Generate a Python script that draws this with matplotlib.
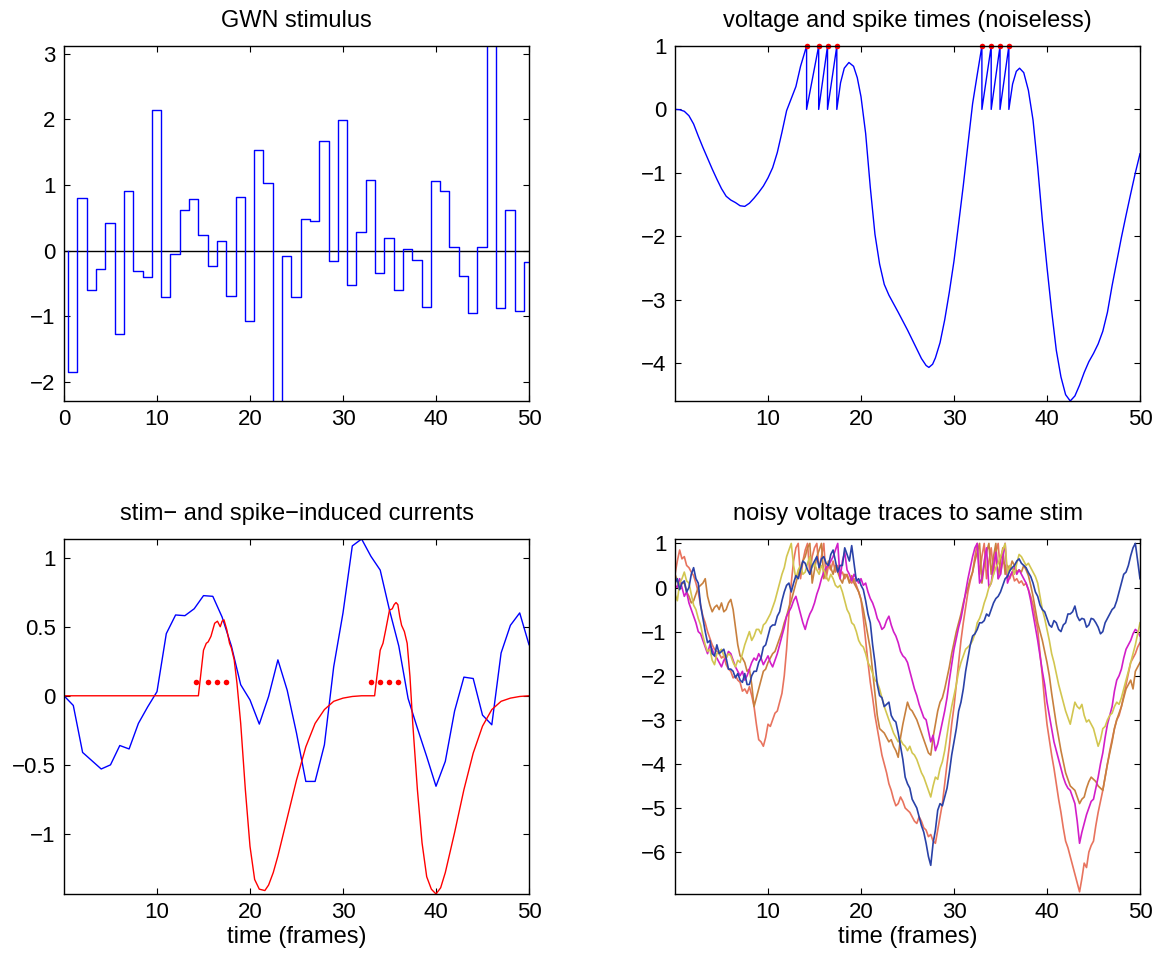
import matplotlib
matplotlib.use('Agg')
import matplotlib.pyplot as plt
import numpy as np

plt.rcParams['font.family'] = ['Liberation Sans', 'DejaVu Sans']
plt.rcParams['font.size'] = 16
plt.rcParams['axes.unicode_minus'] = True

# GWN stimulus, one value per frame (steps start at 0.45)
stim = [-1.845, 0.81, -0.595, -0.275, 0.417, -1.266, 0.915, -0.315, -0.40, 2.145,
        -0.71, -0.056, 0.625, 0.79, 0.234, -0.234, 0.147, -0.69, 0.813, -1.068,
        1.53, 1.037, -2.35, -0.08, -0.707, 0.478, 0.452, 1.677, -0.158, 1.988,
        -0.519, 0.28, 1.073, -0.336, 0.188, -0.595, 0.02, -0.147, -0.85, 1.057,
        0.905, 0.061, -0.386, -0.956, 0.051, 3.2, -0.87, 0.62, -0.915, -0.173]
stim_edges = list(np.arange(0.45, 50, 1.0)) + [50]

# spike times (frames)
spikes = [14.15, 15.45, 16.4, 17.4, 33.0, 34.0, 34.95, 35.9]

# noiseless voltage
volt_t = [0, 0.5, 1, 1.5, 2, 2.5, 3, 3.5, 4, 4.5, 5, 5.5, 6, 6.5, 7, 7.5, 8, 8.5, 9, 9.5,
          10, 10.5, 11, 11.5, 12, 12.5, 13, 13.5, 14.15, 14.15, 15.45, 15.45, 16.4, 16.4,
          17.4, 17.4, 17.8, 18.2, 18.7, 19.2, 19.6, 20, 20.5, 21, 21.5, 22, 22.5, 23, 24,
          25, 26, 26.5, 27, 27.3, 27.7, 28, 28.5, 29, 29.5, 30, 30.5, 31, 31.5, 32, 32.5,
          33.0, 33.0, 34.0, 34.0, 34.95, 34.95, 35.9, 35.9, 36.3, 36.7, 37.05, 37.5, 38,
          38.5, 39, 39.5, 40, 40.5, 41, 41.5, 42, 42.5, 43, 43.5, 44, 44.5, 45, 45.5, 46,
          46.5, 47, 47.5, 48, 48.5, 49, 49.5, 50]
volt_v = [0, -0.005, -0.03, -0.1, -0.23, -0.42, -0.6, -0.77, -0.94, -1.1, -1.25, -1.37,
          -1.43, -1.47, -1.52, -1.53, -1.48, -1.4, -1.31, -1.21, -1.08, -0.92, -0.68, -0.36,
          -0.02, 0.17, 0.36, 0.68, 1, 0, 1, 0, 1, 0, 1, 0, 0.42, 0.65, 0.74, 0.68, 0.5, 0.2,
          -0.38, -1.23, -1.97, -2.44, -2.76, -2.93, -3.2, -3.48, -3.78, -3.93, -4.04, -4.07,
          -4.02, -3.92, -3.68, -3.32, -2.88, -2.39, -1.8, -1.2, -0.55, 0.09, 0.55, 1, 0, 1, 0,
          1, 0, 1, 0, 0.4, 0.6, 0.65, 0.58, 0.3, -0.17, -0.91, -1.75, -2.49, -3.18, -3.8,
          -4.22, -4.5, -4.6, -4.52, -4.35, -4.15, -3.98, -3.85, -3.7, -3.5, -3.2, -2.78, -2.4,
          -2.02, -1.67, -1.33, -1.0, -0.7]

# stimulus-induced current (one value per frame, 0..50)
stim_cur = [0, -0.07, -0.41, -0.47, -0.53, -0.50, -0.36, -0.385, -0.20, -0.08,
            0.03, 0.45, 0.585, 0.58, 0.63, 0.725, 0.72, 0.57, 0.36, 0.08,
            -0.03, -0.205, -0.005, 0.26, 0.04, -0.27, -0.62, -0.62, -0.355, 0.21,
            0.6, 1.085, 1.135, 1.01, 0.91, 0.62, 0.36, -0.02, -0.235, -0.44,
            -0.655, -0.475, -0.11, 0.135, 0.125, -0.14, -0.21, 0.31, 0.51, 0.60, 0.37]

# spike-induced current
spk_t = [0, 14.45, 14.6, 15, 15.3, 15.5, 15.8, 16.2, 16.5, 16.8, 17, 17.2, 17.5, 17.8, 18,
         18.3, 18.6, 19, 19.5, 20, 20.5, 21, 21.6, 22, 22.5, 23, 24, 25, 26, 27, 28, 29, 30,
         31, 32, 33.4, 33.6, 34, 34.3, 34.6, 35, 35.3, 35.5, 35.7, 35.9, 36.1, 36.3, 36.6,
         36.9, 37.2, 37.5, 38, 38.5, 39, 39.5, 40, 40.5, 41, 42, 43, 44, 45, 46, 47, 48, 49, 50]
spk_cur = [0, 0, 0.09, 0.33, 0.38, 0.39, 0.43, 0.525, 0.54, 0.50, 0.54, 0.55, 0.48, 0.38,
           0.345, 0.26, 0.09, -0.2, -0.68, -1.09, -1.33, -1.40, -1.41, -1.37, -1.28, -1.16,
           -0.885, -0.61, -0.37, -0.2, -0.10, -0.04, -0.017, -0.005, 0, 0, 0.115, 0.33, 0.38,
           0.48, 0.62, 0.63, 0.66, 0.675, 0.66, 0.575, 0.51, 0.465, 0.38, 0.14, -0.2, -0.68,
           -1.065, -1.31, -1.40, -1.435, -1.39, -1.28, -0.99, -0.68, -0.415, -0.22, -0.10,
           -0.04, -0.017, -0.005, 0]

# noisy voltage traces, sampled every quarter frame (4 values per frame, rows of 5 frames)
trace_blue = [
    0.1, 0.2, -0.05, 0.1, 0.15, -0.1, 0.0, 0.3, 0.45, 0.2, 0.1, -0.4, -0.7, -1.0, -1.25, -1.2, -1.5, -1.55, -1.3, -1.5,
    -1.45, -1.4, -1.6, -1.85, -1.85, -1.9, -2.05, -1.95, -2.1, -2.15, -1.95, -2.2, -2.2, -2.0, -1.9, -1.9, -1.7, -1.6, -1.35, -1.3,
    -1.1, -0.9, -0.85, -0.85, -0.65, -0.55, -0.3, -0.1, 0.05, 0.1, -0.1, 0.1, 0.27, 0.2, 0.4, 0.6, 0.55, 0.4, 0.3, 0.5,
    0.6, 0.7, 0.45, 0.65, 0.7, 0.55, 0.5, 0.75, 0.85, 0.6, 0.35, 0.5, 0.5, 0.9, 0.75, 0.6, 0.95, 0.55, 0.15, 0.2,
    0.05, -0.05, -0.3, -0.6, -0.8, -1.3, -1.7, -2.2, -2.45, -2.5, -2.7, -2.65, -2.6, -2.9, -3.0, -3.05, -3.3, -3.6, -3.9, -4.3,
    -4.45, -4.55, -4.8, -4.9, -5.0, -5.2, -5.4, -5.55, -5.8, -6.1, -6.3, -5.8, -5.5, -5.05, -4.9, -4.95, -4.75, -4.55, -4.2, -3.8,
    -3.5, -3.2, -2.8, -2.6, -2.3, -1.9, -1.6, -1.3, -1.1, -1.05, -0.95, -0.8, -0.8, -0.75, -0.6, -0.65, -0.5, -0.35, -0.25, -0.2,
    -0.1, 0.05, 0.2, 0.25, 0.38, 0.45, 0.5, 0.6, 0.65, 0.55, 0.5, 0.45, 0.34, 0.25, 0.1, -0.1, -0.2, -0.4, -0.5, -0.55,
    -0.7, -0.85, -0.9, -0.75, -0.8, -0.95, -1.0, -0.85, -0.8, -0.6, -0.6, -0.55, -0.42, -0.65, -0.75, -0.7, -0.72, -0.9, -0.85, -0.7,
    -0.72, -0.8, -0.9, -1.05, -1.0, -0.8, -0.7, -0.6, -0.5, -0.45, -0.3, -0.1, 0.1, 0.3, 0.35, 0.5, 0.72, 0.9, 1.0, 0.6,
    0.2]
trace_yellow = [
    -0.15, -0.3, 0.1, 0.2, 0.35, 0.15, 0.1, -0.15, -0.4, -0.5, -0.7, -0.85, -1.1, -1.3, -1.45, -1.4, -1.65, -1.75, -1.5, -1.45,
    -1.4, -1.55, -1.6, -1.5, -1.55, -1.7, -1.8, -1.65, -1.7, -1.5, -1.3, -1.15, -1.0, -1.2, -1.1, -0.95, -0.95, -1.05, -0.85, -0.8,
    -0.7, -0.6, -0.45, -0.3, -0.1, 0.1, 0.3, 0.45, 0.7, 0.85, 1.0, 0.5, 0.2, 0.4, 0.5, 0.3, 0.35, 0.55, 0.7, 0.45,
    0.55, 0.4, 0.3, 0.5, 0.4, 0.25, 0.15, 0.3, 0.2, 0.05, 0.0, 0.05, -0.1, -0.3, -0.5, -0.6, -0.8, -0.85, -1.0, -1.2,
    -1.3, -1.35, -1.5, -1.7, -1.8, -1.95, -2.1, -2.15, -2.3, -2.5, -2.7, -2.85, -3.0, -3.15, -3.3, -3.4, -3.5, -3.45, -3.55, -3.6,
    -3.7, -3.6, -3.75, -3.8, -3.9, -4.05, -4.2, -4.3, -4.45, -4.6, -4.75, -4.5, -4.3, -4.35, -4.1, -3.95, -3.7, -3.35, -3.0, -2.7,
    -2.45, -2.2, -1.9, -1.7, -1.55, -1.4, -1.35, -1.3, -1.2, -1.05, -0.8, -0.7, -0.55, -0.35, -0.2, 0.0, 0.1, 0.3, 0.45, 0.55,
    0.7, 0.85, 1.0, 0.3, 0.5, 0.45, 0.3, 0.55, 0.75, 0.7, 0.6, 0.5, 0.55, 0.45, 0.35, 0.25, 0.1, -0.2, -0.5, -0.7,
    -0.95, -1.2, -1.5, -1.7, -1.95, -2.2, -2.4, -2.6, -2.8, -2.95, -3.1, -2.85, -2.6, -2.7, -2.75, -2.65, -2.9, -3.05, -3.0, -3.1,
    -3.2, -3.4, -3.6, -3.45, -3.2, -3.15, -3.0, -2.9, -2.85, -2.7, -2.6, -2.65, -2.5, -2.3, -2.1, -1.9, -1.7, -1.5, -1.3, -1.05,
    -0.8]
trace_magenta = [
    0.05, 0.0, 0.2, 0.0, -0.2, -0.1, -0.35, -0.5, -0.65, -0.8, -1.0, -1.05, -1.2, -1.35, -1.5, -1.3, -1.4, -1.55, -1.6, -1.7,
    -1.8, -1.65, -1.6, -1.45, -1.5, -1.65, -1.8, -1.9, -2.0, -1.9, -2.1, -2.0, -1.85, -1.7, -1.6, -1.65, -1.5, -1.6, -1.75, -1.65,
    -1.55, -1.7, -1.8, -1.65, -1.5, -1.3, -1.1, -0.9, -0.65, -0.55, -0.45, -0.3, -0.2, -0.4, -0.6, -0.8, -0.95, -0.75, -0.6, -0.5,
    -0.35, -0.15, 0.0, 0.2, 0.35, 0.45, 0.5, 0.6, 0.7, 0.85, 1.0, 0.2, 0.6, 0.8, 0.4, 0.3, 0.15, 0.3, 0.2, 0.1,
    0.2, 0.05, 0.1, -0.1, -0.25, -0.35, -0.5, -0.7, -0.8, -0.95, -0.9, -0.75, -0.65, -0.85, -1.0, -1.1, -1.25, -1.45, -1.55, -1.6,
    -1.7, -1.9, -2.1, -2.3, -2.45, -2.65, -2.8, -2.95, -3.0, -3.25, -3.5, -3.35, -3.7, -3.55, -3.3, -3.05, -2.8, -2.5, -2.1, -1.75,
    -1.4, -1.15, -0.9, -0.7, -0.42, -0.1, 0.2, 0.45, 0.7, 0.9, 1.0, 0.1, 0.2, 0.6, 0.9, 0.0, 0.1, 0.5, 0.8, 0.2,
    0.3, 0.7, 1.0, 0.1, 0.25, 0.35, 0.45, 0.3, 0.4, 0.3, 0.2, 0.1, -0.05, -0.3, -0.6, -0.9, -1.2, -1.55, -1.9, -2.2,
    -2.6, -2.9, -3.2, -3.5, -3.7, -3.9, -4.1, -4.3, -4.45, -4.55, -4.6, -4.75, -4.9, -5.3, -5.8, -5.55, -5.35, -5.15, -5.0, -4.85,
    -4.8, -4.55, -4.3, -4.0, -3.75, -3.4, -3.1, -2.9, -2.7, -2.35, -2.1, -2.0, -1.85, -1.6, -1.4, -1.3, -1.2, -1.05, -0.95, -1.0,
    -1.1]
trace_brown = [
    0.3, 0.15, 0.0, 0.1, 0.1, -0.1, -0.2, -0.35, -0.3, -0.15, 0.0, 0.05, 0.1, 0.2, -0.2, -0.4, -0.55, -0.45, -0.4, -0.5,
    -0.35, -0.55, -0.5, -0.35, -0.27, -0.5, -0.9, -1.3, -1.55, -1.6, -1.7, -1.9, -1.85, -2.2, -2.7, -2.5, -2.3, -2.1, -1.9, -1.85,
    -1.7, -1.6, -1.5, -1.45, -1.3, -1.15, -1.0, -0.8, -0.65, -0.45, -0.3, -0.1, 0.1, 0.3, 0.45, 0.6, 0.7, 0.9, 1.0, 0.1,
    0.4, 0.7, 0.85, 1.0, 0.2, 0.4, 0.6, 0.45, 0.3, 0.5, 0.35, 0.2, 0.1, 0.3, 0.27, 0.1, 0.27, 0.1, 0.0, -0.1,
    -0.27, -0.5, -0.8, -1.1, -1.4, -1.9, -2.4, -2.9, -3.2, -3.25, -3.3, -3.4, -3.5, -3.45, -3.6, -3.7, -3.85, -3.4, -3.1, -2.85,
    -2.6, -2.75, -2.8, -2.9, -3.0, -3.15, -3.3, -3.45, -3.6, -3.75, -3.8, -3.4, -3.1, -2.8, -2.6, -2.5, -2.3, -2.05, -1.8, -1.5,
    -1.25, -1.0, -0.8, -0.6, -0.35, -0.15, 0.0, 0.2, 0.35, 0.6, 0.8, 1.0, 0.1, 0.5, 0.8, 1.0, 0.3, 0.7, 1.0, 0.2,
    0.6, 0.9, 0.3, 0.5, 0.4, 0.6, 0.5, 0.35, 0.4, 0.35, 0.5, 0.4, 0.27, 0.05, -0.2, -0.5, -0.8, -1.0, -1.2, -1.45,
    -1.7, -2.0, -2.4, -2.75, -3.1, -3.4, -3.7, -3.95, -4.2, -4.35, -4.5, -4.55, -4.6, -4.75, -4.9, -4.8, -4.75, -4.55, -4.4, -4.3,
    -4.35, -4.4, -4.5, -4.55, -4.6, -4.3, -4.0, -3.75, -3.5, -3.2, -3.0, -2.85, -2.7, -2.5, -2.3, -2.2, -2.1, -2.3, -1.9, -1.8,
    -1.7]
trace_salmon = [
    0.3, 0.6, 0.85, 0.65, 0.7, 0.5, 0.45, 0.35, 0.27, 0.1, -0.1, -0.4, -0.65, -0.8, -1.0, -1.15, -1.3, -1.4, -1.45, -1.5,
    -1.6, -1.55, -1.75, -1.85, -1.9, -2.05, -2.0, -2.1, -2.15, -2.35, -2.3, -2.4, -2.25, -2.45, -2.7, -3.1, -3.45, -3.5, -3.6, -3.4,
    -3.1, -3.15, -3.0, -2.85, -2.8, -2.6, -2.4, -2.0, -1.4, -0.6, 0.1, 0.6, 0.9, 1.0, 0.2, 0.6, 0.85, 1.0, 0.3, 0.7,
    0.9, 1.0, 0.4, 0.7, 1.0, 0.2, 0.5, 0.4, 0.6, 0.35, 0.5, 0.3, 0.35, 0.2, 0.3, 0.15, 0.1, 0.2, 0.05, -0.1,
    -0.27, -0.7, -1.2, -1.7, -2.15, -2.5, -2.9, -3.2, -3.5, -3.8, -4.0, -4.2, -4.45, -4.6, -4.8, -4.95, -4.9, -4.75, -4.85, -5.0,
    -5.05, -5.1, -5.2, -5.3, -5.35, -5.2, -5.3, -5.45, -5.5, -5.65, -5.6, -5.75, -5.8, -5.5, -5.2, -4.9, -4.45, -4.0, -3.6, -3.1,
    -2.7, -2.2, -1.7, -1.2, -0.8, -0.45, -0.1, 0.15, 0.35, 0.7, 1.0, 0.3, 0.7, 1.0, 0.2, 0.6, 0.9, 0.3, 0.8, 1.0,
    0.3, 0.6, 0.5, 0.3, 0.2, 0.35, 0.15, 0.2, 0.1, 0.15, 0.05, 0.1, -0.05, -0.2, -0.4, -0.7, -0.95, -1.5, -2.0, -2.6,
    -3.1, -3.45, -3.8, -4.1, -4.45, -4.8, -5.1, -5.45, -5.75, -5.9, -6.1, -6.3, -6.5, -6.7, -6.9, -6.6, -6.25, -6.35, -6.0, -5.85,
    -5.75, -5.4, -5.1, -4.85, -4.6, -4.3, -4.0, -3.7, -3.45, -3.2, -3.0, -2.9, -2.7, -2.45, -2.2, -1.95, -1.7, -1.6, -1.5, -1.35,
    -1.25]

traces = [trace_salmon, trace_brown, trace_magenta, trace_yellow, trace_blue]
trace_colors = ['#e8735e', '#c8803e', '#d21ec8', '#d2c650', '#2a42a8']


def matlab_axes(ax):
    ax.tick_params(direction='in', top=True, right=True, length=4, width=0.8,
                   labelsize=16, pad=6)
    for s in ax.spines.values():
        s.set_linewidth(1.0)


W, H = 1161, 960
fig = plt.figure(figsize=(W / 100, H / 100), dpi=100)
colx = [64 / W, 675 / W]
rowy = [(H - 401) / H, (H - 894) / H]
aw, ah = 465 / W, 355 / H

ax1 = fig.add_axes([colx[0], rowy[0], aw, ah])
ax2 = fig.add_axes([colx[1], rowy[0], aw, ah])
ax3 = fig.add_axes([colx[0], rowy[1], aw, ah])
ax4 = fig.add_axes([colx[1], rowy[1], aw, ah])

# GWN stimulus
xs = np.r_[stim_edges[0], stim_edges]
ys = np.r_[0, stim, stim[-1]]
ax1.axhline(0, color='k', lw=1.0)
ax1.step(xs, ys, where='post', color='#0000ff', lw=1.0)
ax1.set_xlim(0, 50)
ax1.set_ylim(-2.29, 3.12)
ax1.set_xticks([0, 10, 20, 30, 40, 50])
ax1.set_yticks([-2, -1, 0, 1, 2, 3])
ax1.set_title('GWN stimulus', fontsize=17, pad=13.5)
matlab_axes(ax1)

# voltage and spikes
ax2.plot(volt_t, volt_v, color='#0000ff', lw=1.0)
ax2.plot(spikes, [1] * len(spikes), 'o', color='#ff0000', ms=4, mew=0, clip_on=False)
ax2.set_xlim(0, 50)
ax2.set_ylim(-4.6, 1)
ax2.set_xticks([10, 20, 30, 40, 50])
ax2.set_yticks([-4, -3, -2, -1, 0, 1])
ax2.set_title('voltage and spike times (noiseless)', fontsize=17, pad=13.5)
matlab_axes(ax2)

# currents
ax3.plot(np.arange(len(stim_cur)), stim_cur, color='#0000ff', lw=1.0)
ax3.plot(spk_t, spk_cur, color='#ff0000', lw=1.0)
ax3.plot(spikes, [0.1] * len(spikes), 'o', color='#ff0000', ms=4, mew=0)
ax3.set_xlim(0, 50)
ax3.set_ylim(-1.435, 1.135)
ax3.set_xticks([10, 20, 30, 40, 50])
ax3.set_yticks([-1, -0.5, 0, 0.5, 1])
ax3.set_yticklabels(['\u22121', '\u22120.5', '0', '0.5', '1'])
ax3.set_title('stim\u2212 and spike\u2212induced currents', fontsize=17, pad=13.5)
ax3.set_xlabel('time (frames)', fontsize=17, labelpad=2)
matlab_axes(ax3)

# noisy traces
for tr, c in zip(traces, trace_colors):
    ax4.plot(np.arange(len(tr)) * 0.25, tr, color=c, lw=1.2)
ax4.set_xlim(0, 50)
ax4.set_ylim(-6.95, 1.1)
ax4.set_xticks([10, 20, 30, 40, 50])
ax4.set_yticks([-6, -5, -4, -3, -2, -1, 0, 1])
ax4.set_title('noisy voltage traces to same stim', fontsize=17, pad=13.5)
ax4.set_xlabel('time (frames)', fontsize=17, labelpad=2)
matlab_axes(ax4)

fig.savefig('out.png', dpi=100)
